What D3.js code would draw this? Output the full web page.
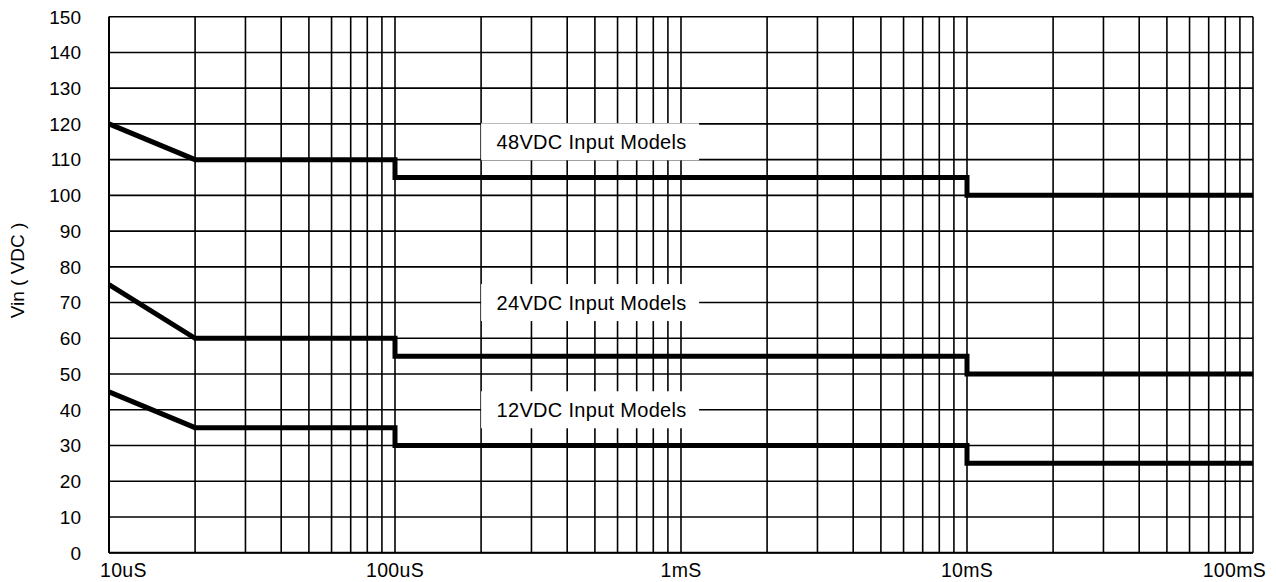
<!DOCTYPE html>
<html>
<head>
<meta charset="utf-8">
<script src="https://cdn.jsdelivr.net/npm/d3@7"></script>
<style>
  html, body { margin: 0; padding: 0; background: #fff; }
  svg { display: block; font-family: "Liberation Sans", Arial, sans-serif; }
</style>
</head>
<body>
<svg id="chart" width="1276" height="582"></svg>
<script>
// ---- data ----
const xTickValues = [1e-5, 1e-4, 1e-3, 1e-2, 1e-1];
const xTickLabels = ["10uS", "100uS", "1mS", "10mS", "100mS"];
const yTickValues = [0, 10, 20, 30, 40, 50, 60, 70, 80, 90, 100, 110, 120, 130, 140, 150];
const yTitle = "Vin ( VDC )";

// series: time (s) and voltage
const times = [1e-5, 2e-5, 1e-4, 1e-4, 1e-2, 1e-2, 1e-1];
const v48 = [120, 110, 110, 105, 105, 100, 100];
const v24 = [75, 60, 60, 55, 55, 50, 50];
const v12 = [45, 35, 35, 30, 30, 25, 25];

const labels = ["48VDC Input Models", "24VDC Input Models", "12VDC Input Models"];
const labelValues = [115, 70, 40];
const labelTimes = [2e-4, 2e-4, 2e-4];

// ---- layout ----
const svg = d3.select("#chart");
const L = 109, R = 1253, T = 16.7, B = 552.7;
const x = d3.scaleLog().domain([1e-5, 1e-1]).range([L, R]);
const y = d3.scaleLinear().domain([0, 150]).range([B, T]);

// grid verticals at 1..9 x decade
const vgrid = [];
for (let d = -5; d < -1; d++) for (let m = 1; m <= 9; m++) vgrid.push(m * Math.pow(10, d));
vgrid.push(1e-1);

const g = svg.append("g");
g.selectAll("line.v").data(vgrid).enter().append("line")
  .attr("x1", d => x(d)).attr("x2", d => x(d))
  .attr("y1", T).attr("y2", B)
  .attr("stroke", "#000").attr("stroke-width", 1.6);
g.selectAll("line.h").data(yTickValues).enter().append("line")
  .attr("x1", L).attr("x2", R)
  .attr("y1", d => y(d)).attr("y2", d => y(d))
  .attr("stroke", "#000").attr("stroke-width", 1.6);

// label boxes (white, hide grid)
const boxW = 218, boxH = 37;
labels.forEach((t, i) => {
  const bx = x(labelTimes[i]);
  const cy = y(labelValues[i]);
  g.append("rect").attr("x", bx).attr("y", cy - boxH / 2)
    .attr("width", boxW).attr("height", boxH).attr("fill", "#fff");
  g.append("text").attr("x", bx + 15.5).attr("y", cy + 7)
    .attr("font-size", 20).attr("letter-spacing", 0.3).attr("fill", "#000").text(t);
});

// left & bottom axis lines
g.append("line").attr("x1", L).attr("x2", L).attr("y1", T).attr("y2", B).attr("stroke", "#000").attr("stroke-width", 2);
g.append("line").attr("x1", L).attr("x2", R).attr("y1", B).attr("y2", B).attr("stroke", "#000").attr("stroke-width", 2);

// series lines
const line = d3.line().x((d, i) => x(times[i])).y(d => y(d));
[v48, v24, v12].forEach(s => {
  g.append("path").datum(s).attr("d", line)
    .attr("fill", "none").attr("stroke", "#000").attr("stroke-width", 5)
    .attr("stroke-linejoin", "miter").attr("stroke-linecap", "butt");
});

// y tick labels
svg.append("g").selectAll("text").data(yTickValues).enter().append("text")
  .attr("x", 81).attr("y", d => y(d) + 6.8)
  .attr("text-anchor", "end").attr("font-size", 19).attr("fill", "#000")
  .text(d => d);

// x tick labels
svg.append("g").selectAll("text").data(xTickValues).enter().append("text")
  .attr("x", (d, i) => i === 0 ? L - 9 : (i === xTickValues.length - 1 ? R + 13 : x(d)))
  .attr("y", 577)
  .attr("text-anchor", (d, i) => i === 0 ? "start" : (i === xTickValues.length - 1 ? "end" : "middle"))
  .attr("font-size", 19.5).attr("letter-spacing", 0.3).attr("fill", "#000")
  .text((d, i) => xTickLabels[i]);

// y title
svg.append("text")
  .attr("transform", "translate(24,270.5) rotate(-90)")
  .attr("text-anchor", "middle").attr("font-size", 19).attr("fill", "#000")
  .text(yTitle);
</script>
</body>
</html>
